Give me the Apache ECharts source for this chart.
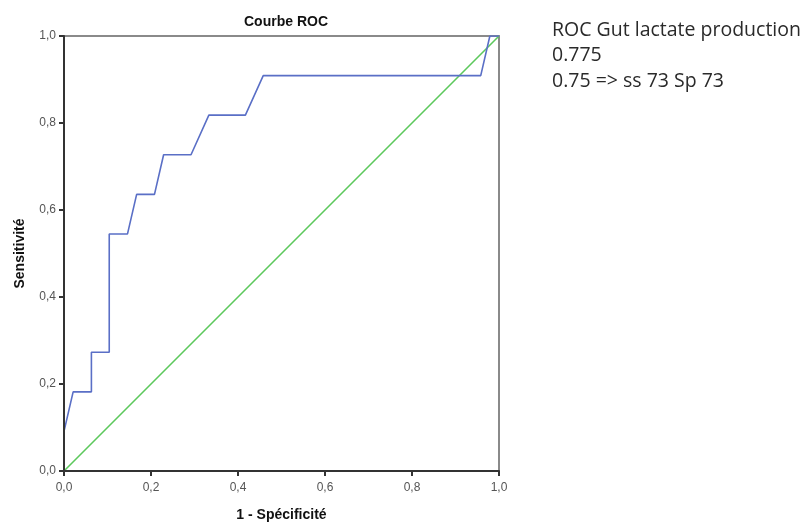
<!DOCTYPE html>
<html>
<head>
<meta charset="utf-8">
<title>Courbe ROC</title>
<script src="https://cdn.jsdelivr.net/npm/echarts@6/dist/echarts.min.js"></script>
<style>
  html, body { margin: 0; padding: 0; background: #fff; }
  #chart { width: 806px; height: 522px; }
</style>
</head>
<body>
<div id="chart"></div>
<script>
// 1 - spécificité (x) et sensibilité (y) de la courbe ROC
var fpr = [0, 0, 0.021, 0.063, 0.063, 0.104, 0.104, 0.146, 0.167, 0.208, 0.229, 0.292, 0.333, 0.417, 0.458, 0.958, 0.979, 1.0];
var tpr = [0, 0.091, 0.182, 0.182, 0.273, 0.273, 0.545, 0.545, 0.636, 0.636, 0.727, 0.727, 0.818, 0.818, 0.909, 0.909, 1.0, 1.0];
// diagonale de référence
var refX = [0, 1];
var refY = [0, 1];
var noteLines = ["ROC Gut lactate production", "0.775", "0.75 => ss 73 Sp 73"];

var myChart = echarts.init(document.getElementById("chart"));

function zip(a, b) {
  var out = [];
  for (var i = 0; i < a.length; i++) out.push([a[i], b[i]]);
  return out;
}

function fmt(v) {
  return v.toFixed(1).replace(".", ",");
}

var axisCommon = {
  type: "value",
  min: 0,
  max: 1,
  interval: 0.2,
  axisLine: { show: true, onZero: false, lineStyle: { color: "#333", width: 2 } },
  axisTick: { show: true, length: 5, lineStyle: { color: "#333", width: 2 } },
  splitLine: { show: false },
  axisLabel: {
    color: "#555",
    fontSize: 12,
    fontFamily: "Liberation Sans",
    formatter: fmt,
  },
  nameLocation: "middle",
  nameTextStyle: {
    color: "#111",
    fontSize: 14,
    fontWeight: "bold",
    fontFamily: "Liberation Sans",
  },
  z: 5,
};

// cadre haut / droite (gris clair, sans graduations)
var frameAxis = {
  type: "value",
  min: 0,
  max: 1,
  axisLine: { show: true, onZero: false, lineStyle: { color: "#8a8a8a", width: 2 } },
  axisTick: { show: false },
  axisLabel: { show: false },
  splitLine: { show: false },
};

var titles = [
  {
    text: "Courbe ROC",
    left: 281,
    top: 10,
    textAlign: "center",
    textStyle: { fontSize: 14, fontWeight: "bold", color: "#111", fontFamily: "Liberation Sans" },
  },
];
noteLines.forEach(function (t, i) {
  titles.push({
    text: t,
    left: 547,
    top: 15 + i * 25.5,
    textStyle: { fontSize: 19.5, fontWeight: "normal", color: "#2a2a2a", fontFamily: "Open Sans" },
  });
});

myChart.setOption({
  animation: false,
  title: titles,
  grid: {
    left: 64,
    top: 36,
    width: 435,
    height: 435,
    outerBoundsMode: "none",
    containLabel: false,
  },
  xAxis: [
    Object.assign({}, axisCommon, {
      name: "1 - Spécificité",
      nameGap: 37,
      axisLabel: Object.assign({}, axisCommon.axisLabel, { margin: 11 }),
    }),
    Object.assign({}, frameAxis, { position: "top" }),
  ],
  yAxis: [
    Object.assign({}, axisCommon, {
      name: "Sensitivité",
      nameGap: 37,
      axisLabel: Object.assign({}, axisCommon.axisLabel, { margin: 8 }),
    }),
    Object.assign({}, frameAxis, { position: "right" }),
  ],
  series: [
    {
      type: "line",
      data: zip(refX, refY),
      symbol: "none",
      lineStyle: { color: "#5cc85c", width: 1.6 },
      z: 2,
    },
    {
      type: "line",
      data: zip(fpr, tpr),
      symbol: "none",
      lineStyle: { color: "#5a6fc6", width: 1.6 },
      z: 3,
    },
  ],
});
</script>
</body>
</html>
